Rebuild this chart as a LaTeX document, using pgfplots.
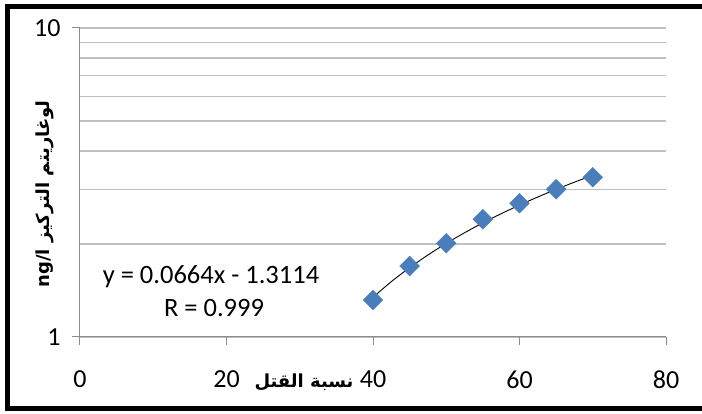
\documentclass[border=0pt]{standalone}
\usepackage{pgfplots}
\pgfplotsset{compat=1.18}
\usepackage{fontspec}
\setmainfont{Carlito}
\newfontfamily\arabicfont[Script=Arabic]{DejaVu Sans}
\TeXXeTstate=1
\definecolor{gridgray}{HTML}{BFBFBF}
\definecolor{axgray}{HTML}{8C8C8C}
\definecolor{mblue}{HTML}{4A7EBB}
\begin{document}
\begin{tikzpicture}[x=1pt,y=1pt]
\useasboundingbox (0,0) rectangle (702,414);
\begin{axis}[
  at={(80pt,77pt)}, anchor=south west,
  scale only axis, width=586pt, height=309pt,
  xmin=0, xmax=80, ymode=log, log basis y=10, ymin=1, ymax=10,
  xtick={0,20,40,60,80},
  ytick={1,10}, yticklabels={1,10},
  minor ytick={2,3,4,5,6,7,8,9},
  ymajorgrids, yminorgrids,
  major grid style={gridgray, line width=1.2pt},
  minor grid style={gridgray, line width=1.2pt},
  axis x line*=bottom, axis y line*=left,
  axis line style={axgray, line width=1pt, -},
  tick style={axgray, line width=1pt},
  tick align=outside, major tick length=8pt, minor tick length=0pt,
  tick label style={font=\fontsize{26}{30}\selectfont, black},
  xticklabel style={yshift=-22pt},
  yticklabel style={xshift=-8pt},
  /pgf/number format/assume math mode=true,
  clip=false,
]
\addplot[only marks, mark=square*, mark size=7pt,
  mark options={rotate=45, fill=mblue, draw=mblue}] coordinates {
  (40,1.317) (45,1.697) (50,2.010) (55,2.404) (60,2.708) (65,3.006) (70,3.287)
};
\addplot[black, line width=0.9pt, smooth] coordinates {
  (40,1.3446) (42.5,1.5106) (45,1.6766) (47.5,1.8426) (50,2.0086)
  (52.5,2.1746) (55,2.3406) (57.5,2.5066) (60,2.6726) (62.5,2.8386)
  (65,3.0046) (67.5,3.1706) (70,3.3366)
};
\end{axis}
\node[font=\fontsize{26.5}{30}\selectfont] at (211,137) {y = 0.0664x - 1.3114};
\node[font=\fontsize{26.5}{30}\selectfont] at (214,106) {R = 0.999};
\node[font=\fontsize{18}{22}\selectfont\arabicfont\bfseries] at (304,32) {\beginR نسبة القتل\endR};
\node[rotate=90, font=\fontsize{18}{22}\selectfont\arabicfont\bfseries] at (45,220) {\beginR لوغاريتم التركيز \beginL ng/l\endL\endR};
\draw[line width=5pt] (712,5.5) -- (7.5,5.5) -- (7.5,407.5) -- (712,407.5);
\end{tikzpicture}
\end{document}
